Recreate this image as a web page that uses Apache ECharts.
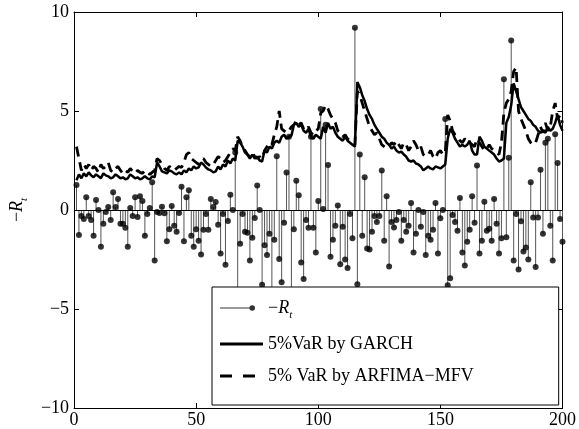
<!DOCTYPE html>
<html>
<head>
<meta charset="utf-8">
<script src="https://cdn.jsdelivr.net/npm/echarts@6/dist/echarts.min.js"></script>
<style>
  html, body { margin: 0; padding: 0; background: #fff; }
  #main { width: 579px; height: 429px; }
</style>
</head>
<body>
<div id="main"></div>
<script>
// -R_t, t = 1..200
var negR = [
  1.26, -1.26, -0.3, -0.45, 0.64, -0.3, -0.5, -1.3, 0.5, 0.0,
  -1.85, -0.7, -0.1, 0.15, -0.5, 0.9, 0.15, 0.55, -0.7, -0.7,
  -0.9, -1.85, 0.1, -0.3, 0.65, -0.35, 0.7, 0.45, -1.3, -0.2,
  0.1, 1.4, -2.55, -0.1, -0.15, 0.17, -0.17, -1.58, -0.97, 0.2,
  -0.8, -1.1, -0.15, 1.17, -1.58, 0.64, 1.0, -1.3, -1.85, -0.97,
  -1.55, -2.25, -1.0, -0.2, -1.0, 0.55, 0.15, 0.4, -0.75, -2.2,
  -0.2, -2.77, -0.55, 0.77, 0.0, 2.9, -4.6, -1.7, -0.2, -1.1,
  -1.15, -2.55, -1.4, -0.4, 1.24, 0.0, -3.78, -1.78, -2.27, -1.2,
  -5.0, -1.5, 2.72, -2.48, -3.65, -0.64, 1.9, 3.7, -4.8, -0.97,
  1.48, 0.75, -2.65, -3.48, -0.5, -0.9, 3.7, -0.9, -2.15, 0.45,
  5.1, 0.05, 4.3, 2.27, -2.36, -1.5, -0.8, 0.23, -2.74, -0.85,
  -2.5, -2.93, -0.2, -1.43, 9.2, -3.75, 2.8, -1.3, 1.65, -1.95,
  -2.0, -1.1, -0.3, -0.6, -0.3, 2.0, -1.55, 0.7, -2.85, -0.6,
  -0.88, -0.5, -0.1, -1.55, -0.5, -1.1, -0.8, 0.35, -2.15, -1.2,
  0.0, -0.85, -0.1, -2.27, -1.3, -1.5, -1.0, 0.35, -2.2, -0.42,
  0.0, 4.6, -3.8, -3.45, -0.25, -0.6, -1.05, 0.6, -2.15, -2.8,
  -1.6, -1.0, 0.7, -0.65, 2.25, -2.2, -1.55, 0.42, -1.05, -0.95,
  -1.55, 0.55, -0.7, -2.2, -1.43, 6.6, -1.38, 2.64, 8.56, -2.55,
  -0.2, -3.0, -0.57, -2.1, -1.9, -2.5, 1.4, -0.38, -2.88, -0.38,
  2.03, -1.2, 3.4, 3.6, -0.8, -2.55, 3.83, 2.38, -0.45, -1.6
];

// 5% VaR by GARCH
var varGarch = [
  1.5, 1.8, 1.6, 1.85, 1.7, 1.9, 1.75, 1.65, 1.8, 1.7,
  1.6, 1.85, 1.75, 1.7, 1.6, 1.65, 1.8, 1.7, 1.6, 1.65,
  1.55, 1.6, 1.8, 1.7, 1.6, 1.65, 1.55, 1.6, 1.7, 1.6,
  1.55, 1.7, 1.65, 2.4, 2.2, 1.95, 1.9, 1.85, 2.0, 1.95,
  1.85, 1.8, 1.9, 1.8, 2.0, 1.9, 2.1, 2.0, 2.2, 2.1,
  2.15, 2.4, 2.3, 2.15, 2.05, 2.0, 1.9, 1.95, 2.2, 2.05,
  2.3, 2.2, 2.5, 2.35, 2.6, 2.5, 3.5, 3.4, 3.2, 2.9,
  2.8, 2.6, 2.8, 2.6, 2.7, 2.5, 2.45, 3.0, 2.9, 3.2,
  3.1, 3.4, 3.5, 3.4, 3.7, 3.8, 3.6, 3.7, 3.75, 4.3,
  4.4, 4.2, 4.3, 4.0, 3.9, 4.1, 3.7, 3.6, 3.8, 3.7,
  3.6, 4.2, 3.9, 4.4, 4.1, 4.2, 3.9, 3.7, 3.6, 3.5,
  3.7, 3.5, 3.4, 3.3, 3.2, 6.46, 6.2, 5.8, 5.5, 5.1,
  4.8, 4.6, 4.3, 4.1, 3.9, 3.7, 3.6, 3.4, 3.3, 3.1,
  3.2, 3.0, 2.9, 2.95, 2.8, 2.7, 2.5, 2.45, 2.5, 2.35,
  2.3, 2.2, 2.0, 2.1, 2.2, 2.1, 2.05, 2.2, 2.15, 2.1,
  2.2, 2.3, 3.6, 4.1, 3.9, 3.6, 3.4, 3.2, 3.3, 3.2,
  3.3, 3.5, 3.0, 2.8, 2.8, 3.7, 3.5, 3.2, 3.1, 3.0,
  2.9, 2.8, 2.6, 2.45, 2.5, 2.6, 4.4, 4.7, 5.3, 6.4,
  6.0, 5.6, 5.2, 5.0, 4.8, 4.6, 4.5, 4.3, 4.2, 4.0,
  3.9, 4.0, 3.9, 4.2, 4.0, 4.1, 4.4, 4.8, 4.3, 4.0
];

// 5% VaR by ARFIMA-MFV
var varArfima = [
  3.2, 2.6, 2.0, 2.3, 2.1, 2.3, 2.0, 2.2, 2.1, 1.9,
  2.3, 2.1, 2.2, 2.4, 2.0, 1.9, 2.1, 2.2, 2.0, 1.85,
  2.0, 1.9, 2.1, 1.95, 1.85, 2.0, 1.9, 1.85, 2.0, 1.9,
  1.8, 1.9, 2.0, 2.6, 2.5, 2.3, 2.1, 2.0, 2.2, 2.1,
  2.0, 2.1, 2.2, 2.15, 2.4, 2.8, 2.9, 2.6, 2.5, 2.4,
  2.3, 2.5, 2.6, 2.4, 2.3, 2.2, 2.3, 2.5, 2.7, 2.6,
  2.4, 2.5, 2.7, 2.9, 3.1, 3.0, 3.7, 3.5, 3.2, 3.0,
  2.8, 2.7, 2.9, 2.7, 2.6, 2.7, 2.6, 3.0, 3.2, 3.4,
  3.3, 3.8, 4.2, 5.0, 4.1, 4.0, 3.9, 4.0, 4.2, 4.3,
  4.5, 4.3, 4.4, 4.1, 4.0, 4.2, 3.9, 3.8, 4.0, 4.1,
  4.9, 5.0, 5.3, 5.1, 4.8, 4.6, 4.4, 4.0, 3.9, 3.7,
  3.8, 3.6, 3.5, 3.4, 3.3, 6.0, 5.8, 5.4, 5.0, 4.6,
  4.2, 4.0, 3.8, 3.9, 3.6, 3.3, 3.2, 3.1, 3.2, 3.4,
  3.3, 3.5, 3.3, 3.1, 3.4, 3.3, 3.0, 3.2, 3.5, 3.3,
  3.0, 3.2, 2.8, 2.7, 2.8, 3.0, 2.7, 2.6, 2.9, 3.0,
  2.8, 2.9, 4.8, 4.5, 4.0, 3.8, 3.7, 3.5, 3.4, 3.6,
  3.5, 3.4, 3.3, 3.2, 3.6, 3.4, 3.2, 3.0, 3.1, 3.3,
  3.1, 3.0, 2.9, 2.8, 3.4, 4.9, 5.4, 5.6, 6.0, 7.0,
  7.2, 5.0, 4.6, 4.3, 4.0, 3.6, 3.4, 3.3, 3.4, 3.8,
  4.2, 3.9, 4.4, 4.0, 4.2, 5.0, 5.4, 4.6, 4.8, 4.4
];

var xTicks = [0, 50, 100, 150, 200];
var yTicks = [-10, -5, 0, 5, 10];

var serif = 'Liberation Serif';
var t = negR.map(function (v, i) { return i + 1; });
function pairs(arr) { return arr.map(function (v, i) { return [t[i], v]; }); }

var chart = echarts.init(document.getElementById('main'));

var tickCommon = { show: true, inside: true, length: 5, lineStyle: { color: '#000' } };
var lineCommon = { show: true, onZero: false, lineStyle: { color: '#000', width: 1 } };
var richSub = {
  i: { fontFamily: serif, fontSize: 18, fontStyle: 'italic', color: '#000' },
  s: { fontFamily: serif, fontSize: 11, fontStyle: 'italic', color: '#000', verticalAlign: 'bottom', padding: [0, 0, -4, 0] }
};

// legend icons (tiny sliver at x=43 keeps the icon box full width)
var iconStem = 'path://M0,2.5H32V3.5H0Z M35,3A2.8,2.8,0,1,1,29.4,3A2.8,2.8,0,1,1,35,3Z M42.9,2.9H43V3.1H42.9Z';
var iconSolid = 'path://M0,0H43V3H0Z';
var iconDash = 'path://M0,0H12V3H0Z M23,0H35V3H23Z M42.9,1.4H43V1.6H42.9Z';

chart.setOption({
  animation: false,
  backgroundColor: '#fff',
  grid: { left: 70, right: 15, top: 12, bottom: 20 },
  xAxis: [
    {
      type: 'value', min: xTicks[0], max: xTicks[xTicks.length - 1], interval: 50,
      axisLine: lineCommon, axisTick: tickCommon, splitLine: { show: false },
      axisLabel: { color: '#000', fontFamily: serif, fontSize: 18, margin: 3 }
    },
    {
      type: 'value', position: 'top', min: 0, max: 200, interval: 50,
      axisLine: lineCommon, axisTick: tickCommon, splitLine: { show: false },
      axisLabel: { show: false }
    }
  ],
  yAxis: [
    {
      type: 'value', min: yTicks[0], max: yTicks[yTicks.length - 1], interval: 5,
      axisLine: lineCommon, axisTick: tickCommon, splitLine: { show: false },
      axisLabel: {
        color: '#000', fontFamily: serif, fontSize: 18, margin: 5,
        formatter: function (v) { return String(v).replace('-', '\u2212'); }
      },
      name: '\u2212{i|R}{s|t}',
      nameLocation: 'middle',
      nameGap: 28,
      nameRotate: 90,
      nameTextStyle: { color: '#000', fontFamily: serif, fontSize: 18, rich: richSub }
    },
    {
      type: 'value', position: 'right', min: -10, max: 10, interval: 5,
      axisLine: lineCommon, axisTick: tickCommon, splitLine: { show: false },
      axisLabel: { show: false }
    }
  ],
  legend: {
    left: 212, top: 287,
    orient: 'vertical',
    backgroundColor: '#fff',
    borderColor: '#000', borderWidth: 1,
    padding: [12, 85, 20, 8],
    itemWidth: 43, itemHeight: 14, itemGap: 14,
    symbolKeepAspect: true,
    textStyle: { color: '#000', fontFamily: serif, fontSize: 18, rich: richSub },
    formatter: function (name) {
      if (name === '\u2212R_t') return '\u2212{i|R}{s|t}';
      return name;
    },
    data: [
      { name: '\u2212R_t', icon: iconStem, itemStyle: { color: '#000' } },
      { name: '5%VaR by GARCH', icon: iconSolid, itemStyle: { color: '#000' } },
      { name: '5% VaR by ARFIMA\u2212MFV', icon: iconDash, itemStyle: { color: '#000' } }
    ]
  },
  series: [
    {
      name: 'stems',
      type: 'bar',
      barWidth: 1,
      data: pairs(negR),
      itemStyle: { color: '#555' },
      z: 2,
      markLine: {
        silent: true, symbol: 'none',
        label: { show: false },
        lineStyle: { color: '#000', width: 1, type: 'solid' },
        data: [{ yAxis: 0 }]
      }
    },
    {
      name: '\u2212R_t',
      type: 'scatter',
      symbol: 'circle',
      symbolSize: 6,
      data: pairs(negR),
      itemStyle: { color: '#000' },
      z: 3
    },
    {
      name: '5%VaR by GARCH',
      type: 'line',
      data: pairs(varGarch),
      symbol: 'none',
      showSymbol: false,
      itemStyle: { color: '#000' },
      lineStyle: { color: '#000', width: 2.5 },
      z: 4
    },
    {
      name: '5% VaR by ARFIMA\u2212MFV',
      type: 'line',
      data: pairs(varArfima),
      symbol: 'none',
      showSymbol: false,
      itemStyle: { color: '#000' },
      lineStyle: { color: '#000', width: 2.8, type: [10, 6] },
      z: 4
    }
  ]
});
</script>
</body>
</html>
